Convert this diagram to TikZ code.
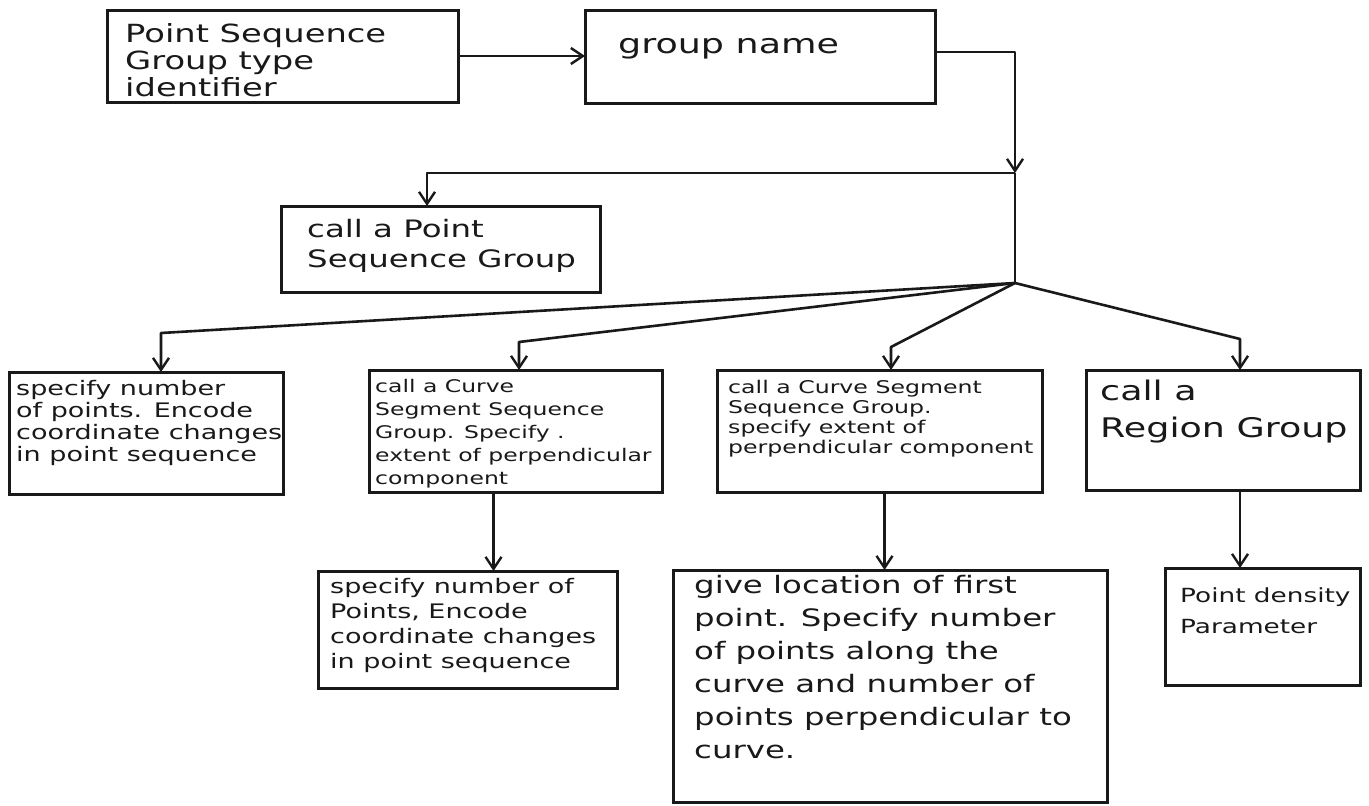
\documentclass[tikz,border=0pt]{standalone}
\usepackage{fontspec}
\newfontfamily\hand[FakeStretch=1.35]{DejaVu Sans}
\usetikzlibrary{arrows.meta}
\tikzset{
  box/.style={draw=black!90, line width=3pt, inner sep=0pt, outer sep=0pt},
  wire/.style={draw=black!90, line width=2.6pt, line join=round},
  arr/.style={wire, -{Straight Barb[length=12pt,width=16pt,line width=2.4pt]}},
  txt/.style={anchor=base west, align=left, inner sep=0pt, text=black!90},
}
\newcommand{\hs}[2]{\fontsize{#1}{#2}\selectfont\hand}
\begin{document}
\begin{tikzpicture}[x=1pt,y=-1pt]
\useasboundingbox (0,0) rectangle (1369,806);
\fill[white] (0,0) rectangle (1369,806);

% boxes
\node[box, minimum width=351pt, minimum height=92pt]  (A) at (282.5,56) {};
\node[box, minimum width=350pt, minimum height=93pt]  (B) at (760,56.5) {};
\node[box, minimum width=319pt, minimum height=86pt]  (C) at (440.5,249) {};
\node[box, minimum width=274pt, minimum height=122pt] (D) at (146,433) {};
\node[box, minimum width=293pt, minimum height=122pt] (E) at (515.5,431) {};
\node[box, minimum width=325pt, minimum height=122pt] (F) at (879.5,431) {};
\node[box, minimum width=274pt, minimum height=120pt] (G) at (1223,430) {};
\node[box, minimum width=299pt, minimum height=117pt] (H) at (467.5,629.5) {};
\node[box, minimum width=434pt, minimum height=232pt] (I) at (890,686) {};
\node[box, minimum width=195pt, minimum height=117pt] (J) at (1262.5,626.5) {};

% texts (anchor = baseline of last line)
\node[txt, font=\hs{25}{27}] (At) at (125,96) {Point Sequence\\Group type\\identifier};
\node[txt, font=\hs{27}{30}] (Bt) at (618,53) {group name};
\node[txt, font=\hs{24}{30}] (Ct) at (307,267) {call a Point\\Sequence Group};
\node[txt, font=\hs{20}{22}] (Dt) at (16,461) {specify number\\of points. Encode\\coordinate changes\\in point sequence};
\node[txt, font=\hs{17.4}{23}] (Et) at (375,484) {call a Curve\\Segment Sequence\\Group. Specify .\\extent of perpendicular\\component};
\node[txt, font=\hs{17.5}{20}] (Ft) at (728,453) {call a Curve Segment\\Sequence Group.\\specify extent of\\perpendicular component};
\node[txt, font=\hs{27}{37}] (Gt) at (1100,437) {call a\\Region Group};
\node[txt, font=\hs{20}{25}] (Ht) at (330,668) {specify number of\\Points, Encode\\coordinate changes\\in point sequence};
\node[txt, font=\hs{24}{33}] (It) at (694,758) {give location of first\\point. Specify number\\of points along the\\curve and number of\\points perpendicular to\\curve.};
\node[txt, font=\hs{19.5}{31}] (Jt) at (1180,633) {Point density\\Parameter};

% connector points
\coordinate (T) at (1015,173);
\coordinate (Jn) at (1015,283);
\coordinate (cC) at (427,173);
\coordinate (kD) at (161,333);
\coordinate (kE) at (519,342);
\coordinate (kF) at (891,347);
\coordinate (kG) at (1240,339);

% connectors
\draw[arr] (A.east) -- (A.east -| B.west);
\draw[arr] ([yshift=4.5pt]B.east) -| (T);
\draw[wire] (T) -- (Jn);
\draw[arr] (T) -- (cC) -- (cC |- C.north);
\draw[arr] (Jn) -- (kD) -- (kD |- D.north);
\draw[arr] (Jn) -- (kE) -- (kE |- E.north);
\draw[arr] (Jn) -- (kF) -- (kF |- F.north);
\draw[arr] (Jn) -- (kG) -- (kG |- G.north);
\draw[arr] ([xshift=-22pt]E.south) -- ([xshift=-22pt]E.south |- H.north);
\draw[arr] ([xshift=5pt]F.south) -- ([xshift=5pt]F.south |- I.north);
\draw[arr] ([xshift=17pt]G.south) -- ([xshift=17pt]G.south |- J.north);
\end{tikzpicture}
\end{document}
